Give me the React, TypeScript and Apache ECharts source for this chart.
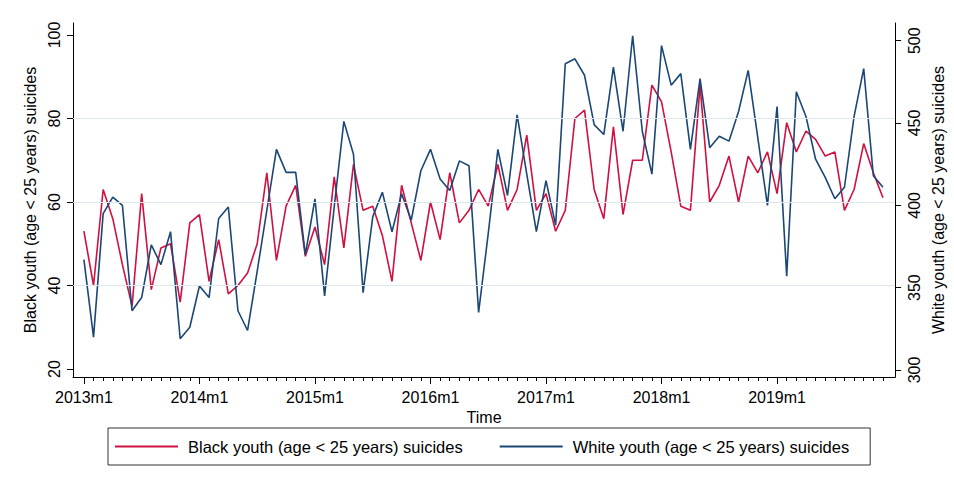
import React, { useEffect, useRef } from "react";
import * as echarts from "echarts";

// Monthly data 2013m1 .. 2019m12 (index 0 = 2013m1)
const blackYouth: number[] = [
  53, 40, 63, 56, 45, 35, 62, 39, 49, 50, 36, 55,
  57, 41, 51, 38, 40, 43, 50, 67, 46, 59, 64, 47,
  54, 45, 66, 49, 69, 58, 59, 52, 41, 64, 55, 46,
  60, 51, 67, 55, 58, 63, 59, 69, 58, 63, 76, 58,
  62, 53, 58, 80, 82, 63, 56, 78, 57, 70, 70, 88,
  84, 72, 59, 58, 88, 60, 64, 71, 60, 71, 67, 72,
  62, 79, 72, 77, 75, 71, 72, 58, 63, 74, 67, 61,
];

const whiteYouth: number[] = [
  367, 320, 395, 405, 400, 336, 344, 376, 364, 384, 319, 326,
  351, 344, 392, 399, 336, 324, 360, 397, 434, 420, 420, 370,
  404, 345, 399, 451, 431, 347, 393, 408, 384, 407, 391, 421,
  434, 416, 409, 427, 424, 335, 383, 434, 406, 455, 419, 384,
  415, 388, 486, 489, 479, 449, 443, 484, 445, 503, 445, 419,
  497, 473, 480, 434, 477, 435, 442, 439, 457, 482, 441, 400,
  460, 357, 469, 454, 428, 417, 404, 411, 454, 483, 418, 411,
];

const tickLabels: string[] = ["2013m1", "2014m1", "2015m1", "2016m1", "2017m1", "2018m1", "2019m1"];
const majorTicks: number[] = [0, 12, 24, 36, 48, 60, 72];
const leftTicks: number[] = [20, 40, 60, 80, 100];
const rightTicks: number[] = [300, 350, 400, 450, 500];
const gridValues: number[] = [40, 60, 80];

const nameBlack = "Black youth (age < 25 years) suicides";
const nameWhite = "White youth (age < 25 years) suicides";

const RED = "#cf1040";
const BLUE = "#1a4775";
const FONT = "'Liberation Sans', Arial, sans-serif";

export default function App() {
  const ref = useRef<HTMLDivElement>(null);

  useEffect(() => {
    if (!ref.current) return;
    const chart = echarts.init(ref.current, null, { renderer: "svg" });
    const monthTicks = blackYouth.map((_, i) => i);
    const xMin = -1.133;
    const xMax = 84.26;
    const option: any = {
      animation: false,
      backgroundColor: "#ffffff",
      textStyle: { fontFamily: FONT, color: "#000" },
      grid: { left: 73, right: 52, top: 23, bottom: 106 },
      legend: {
        left: 108,
        top: 428,
        orient: "horizontal",
        data: [nameBlack, nameWhite],
        icon: "rect",
        itemWidth: 63,
        itemHeight: 2,
        itemGap: 37,
        padding: [10, 21, 10, 7],
        borderColor: "#333",
        borderWidth: 1,
        borderRadius: 0,
        textStyle: { fontSize: 16.5, color: "#000", fontFamily: FONT, padding: [0, 0, 0, 5] },
      },
      xAxis: [
        {
          type: "value",
          min: xMin,
          max: xMax,
          position: "bottom",
          axisLine: { show: true, onZero: false, lineStyle: { color: "#000", width: 1 } },
          axisTick: { show: true, length: 7, customValues: majorTicks, lineStyle: { color: "#000" } },
          axisLabel: {
            customValues: majorTicks,
            formatter: (v: number) => tickLabels[majorTicks.indexOf(Math.round(v))] ?? "",
            fontSize: 16,
            color: "#000",
            margin: 12,
            fontFamily: FONT,
          },
          splitLine: { show: false },
          name: "Time",
          nameLocation: "middle",
          nameGap: 32,
          nameTextStyle: { fontSize: 16, color: "#000", fontFamily: FONT },
        },
        {
          type: "value",
          min: xMin,
          max: xMax,
          position: "bottom",
          axisLine: { show: false, onZero: false },
          axisTick: { show: true, length: 4, customValues: monthTicks, lineStyle: { color: "#000" } },
          axisLabel: { show: false },
          splitLine: { show: false },
        },
      ],
      yAxis: [
        {
          type: "value",
          min: 18.084,
          max: 102.874,
          position: "left",
          axisLine: { show: true, onZero: false, lineStyle: { color: "#000", width: 1 } },
          axisTick: { show: true, length: 6, customValues: leftTicks, lineStyle: { color: "#000" } },
          axisLabel: {
            customValues: leftTicks,
            rotate: 90,
            fontSize: 16,
            color: "#000",
            margin: 11,
            fontFamily: FONT,
          },
          splitLine: { show: false },
          name: nameBlack,
          nameLocation: "middle",
          nameRotate: 90,
          nameGap: 34,
          nameTextStyle: { fontSize: 16, color: "#000", fontFamily: FONT },
        },
        {
          type: "value",
          min: 295.75,
          max: 510.75,
          position: "right",
          axisLine: { show: true, onZero: false, lineStyle: { color: "#000", width: 1 } },
          axisTick: { show: true, length: 6, customValues: rightTicks, lineStyle: { color: "#000" } },
          axisLabel: {
            customValues: rightTicks,
            rotate: 90,
            fontSize: 16,
            color: "#000",
            margin: 11,
            fontFamily: FONT,
          },
          splitLine: { show: false },
          name: nameWhite,
          nameLocation: "middle",
          nameRotate: 90,
          nameGap: 32,
          nameTextStyle: { fontSize: 16, color: "#000", fontFamily: FONT },
        },
      ],
      series: [
        {
          name: "grid",
          type: "line",
          data: [],
          xAxisIndex: 0,
          yAxisIndex: 0,
          z: 1,
          silent: true,
          markLine: {
            silent: true,
            symbol: "none",
            label: { show: false },
            lineStyle: { color: "#dce8eb", width: 1, type: "solid" },
            data: gridValues.map((v) => ({ yAxis: v })),
          },
        },
        {
          name: nameBlack,
          type: "line",
          xAxisIndex: 0,
          yAxisIndex: 0,
          z: 3,
          symbol: "none",
          data: blackYouth.map((v, i) => [i, v]),
          lineStyle: { color: RED, width: 1.6 },
          itemStyle: { color: RED },
        },
        {
          name: nameWhite,
          type: "line",
          xAxisIndex: 0,
          yAxisIndex: 1,
          z: 4,
          symbol: "none",
          data: whiteYouth.map((v, i) => [i, v]),
          lineStyle: { color: BLUE, width: 1.6 },
          itemStyle: { color: BLUE },
        },
      ],
    };
    chart.setOption(option);
    return () => chart.dispose();
  }, []);

  return (
    <div
      ref={ref}
      style={{ position: "fixed", left: 0, top: 0, width: 954, height: 483, background: "#fff" }}
    />
  );
}
